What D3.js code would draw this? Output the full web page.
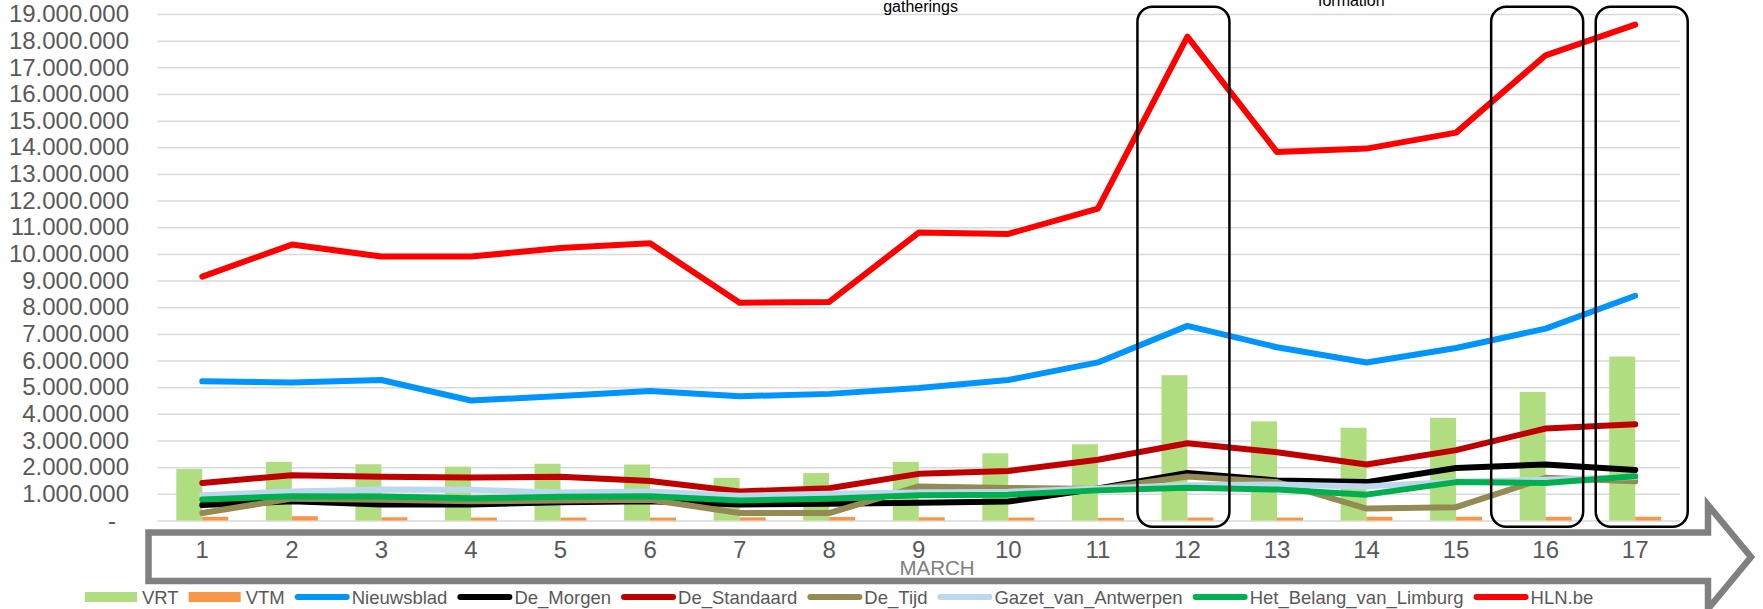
<!DOCTYPE html>
<html>
<head>
<meta charset="utf-8">
<script src="https://cdn.jsdelivr.net/npm/d3@7"></script>
<style>
  body { margin: 0; background: #fff; }
  text { font-family: "Liberation Sans", Arial, sans-serif; }
</style>
</head>
<body>
<script>
//Days of March on the x axis
var days = [1, 2, 3, 4, 5, 6, 7, 8, 9, 10, 11, 12, 13, 14, 15, 16, 17];

//Bar series (values in millions)
var vrt = [1.93, 2.2, 2.11, 2.02, 2.13, 2.1, 1.6, 1.78, 2.2, 2.52, 2.86, 5.45, 3.72, 3.48, 3.85, 4.82, 6.15];
var vtm = [0.14, 0.16, 0.12, 0.11, 0.11, 0.11, 0.12, 0.13, 0.12, 0.11, 0.1, 0.11, 0.11, 0.14, 0.14, 0.14, 0.14];

//Line series (values in millions)
var nieuwsblad = [5.22, 5.18, 5.27, 4.5, 4.67, 4.86, 4.66, 4.75, 4.97, 5.27, 5.93, 7.3, 6.5, 5.93, 6.47, 7.2, 8.43];
var deMorgen = [0.58, 0.72, 0.6, 0.6, 0.68, 0.72, 0.6, 0.63, 0.67, 0.71, 1.2, 1.78, 1.5, 1.44, 1.97, 2.1, 1.89];
var deStandaard = [1.41, 1.7, 1.64, 1.61, 1.64, 1.48, 1.09, 1.21, 1.75, 1.86, 2.28, 2.9, 2.56, 2.1, 2.64, 3.45, 3.61];
var deTijd = [0.28, 0.82, 0.78, 0.72, 0.75, 0.78, 0.28, 0.28, 1.28, 1.22, 1.18, 1.65, 1.44, 0.45, 0.5, 1.6, 1.47];
var gazet = [0.95, 1.09, 1.16, 1.15, 1.05, 1.09, 0.93, 1.0, 1.05, 1.08, 1.2, 1.32, 1.35, 1.28, 1.45, 1.53, 1.63];
var hetBelang = [0.79, 0.91, 0.9, 0.83, 0.89, 0.91, 0.75, 0.82, 0.95, 0.97, 1.13, 1.23, 1.16, 0.97, 1.44, 1.41, 1.66];
var hln = [9.15, 10.35, 9.9, 9.9, 10.22, 10.4, 8.17, 8.2, 10.8, 10.75, 11.7, 18.15, 13.82, 13.95, 14.55, 17.45, 18.6];

//Y axis ticks (millions)
var yTicks = d3.range(0, 20);

//Days that get a rounded box around them (with a small hand-drawn shift)
var boxedDays = [12, 16, 17];
var boxShift = [-4, -8.5, 6.5];

//Note texts cut off at the top of the picture
var notes = [{text: "gatherings", day: 9.02}, {text: "formation", day: 13.83}];

var barSeries = [
    {name: "VRT", values: vrt, color: "#b0dd7f"},
    {name: "VTM", values: vtm, color: "#f79646"}
];

var lineSeries = [
    {name: "Nieuwsblad", values: nieuwsblad, color: "#0094ff"},
    {name: "De_Morgen", values: deMorgen, color: "#000000"},
    {name: "De_Standaard", values: deStandaard, color: "#c00000"},
    {name: "De_Tijd", values: deTijd, color: "#948a54"},
    {name: "Gazet_van_Antwerpen", values: gazet, color: "#bdd7ee"},
    {name: "Het_Belang_van_Limburg", values: hetBelang, color: "#00b050"},
    {name: "HLN.be", values: hln, color: "#ff0000"}
];

//Dimensions
var width = 1763,
    height = 609,
    plot = {top: 14, bottom: 520.5, left: 157.5, right: 1680};

//Number format with dots as thousands separator
var nl = d3.formatLocale({decimal: ",", thousands: ".", grouping: [3], currency: ["€", ""]});
var fmt = nl.format(",.0f");

//Create the svg
const svg = d3.select("body")
    .append("svg")
    .attr("width", width)
    .attr("height", height)
    .attr("viewBox", [0, 0, width, height]);

//Scales
var x0 = d3.scaleBand()
    .domain(days)
    .range([plot.left, plot.right])
    .paddingInner(0.42)
    .paddingOuter(0.21);

var x1 = d3.scaleBand()
    .domain(barSeries.map(d => d.name))
    .range([0, x0.bandwidth()]);

var xc = d => x0(d) + x0.bandwidth() / 2;

var y = d3.scaleLinear()
    .domain([0, 19])
    .range([plot.bottom, plot.top]);

//Gray arrow behind the day labels
var arrow = d3.path();
arrow.moveTo(148.5, 532.5);
arrow.lineTo(1708, 532.5);
arrow.lineTo(1708, 505);
arrow.lineTo(1751, 557);
arrow.lineTo(1708, 609);
arrow.lineTo(1708, 581);
arrow.lineTo(148.5, 581);
arrow.closePath();

svg.append("path")
    .attr("d", arrow.toString())
    .attr("fill", "#fff")
    .attr("stroke", "#808080")
    .attr("stroke-width", 6.5)
    .attr("stroke-linejoin", "miter");

//Y axis with gridlines
svg.append("g")
    .attr("transform", `translate(${plot.left},0)`)
    .call(d3.axisLeft(y)
        .tickValues(yTicks)
        .tickSize(-(plot.right - plot.left))
        .tickPadding(28.5)
        .tickFormat(d => d === 0 ? "-" : fmt(d * 1e6)))
    .call(g => g.select(".domain").remove())
    .call(g => g.selectAll(".tick line").attr("stroke", "#d9d9d9").attr("stroke-width", 1.5))
    .call(g => g.selectAll(".tick text")
        .attr("fill", "#595959")
        .attr("font-size", 24)
        .attr("font-family", "'Liberation Sans', Arial, sans-serif")
        .attr("dx", d => d === 0 ? -13 : 0));

//Bars
svg.append("g")
    .selectAll("g")
    .data(barSeries)
    .join("g")
    .attr("fill", d => d.color)
    .selectAll("rect")
    .data(s => s.values.map((v, i) => ({name: s.name, day: days[i], value: v})))
    .join("rect")
    .attr("x", d => x0(d.day) + x1(d.name))
    .attr("width", x1.bandwidth())
    .attr("y", d => y(d.value))
    .attr("height", d => y(0) - y(d.value));

//Lines
var line = d3.line()
    .x((v, i) => xc(days[i]))
    .y(v => y(v));

svg.append("g")
    .selectAll("path")
    .data(lineSeries)
    .join("path")
    .attr("fill", "none")
    .attr("stroke", d => d.color)
    .attr("stroke-width", 6)
    .attr("stroke-linejoin", "round")
    .attr("stroke-linecap", "round")
    .attr("d", d => line(d.values));

//Rounded boxes
svg.append("g")
    .selectAll("rect")
    .data(boxedDays)
    .join("rect")
    .attr("x", (d, i) => xc(d) - 46 + boxShift[i])
    .attr("width", 92)
    .attr("y", 6.7)
    .attr("height", 520)
    .attr("rx", 15)
    .attr("fill", "none")
    .attr("stroke", "#000")
    .attr("stroke-width", 2.5);

//Day labels
svg.append("g")
    .selectAll("text")
    .data(days)
    .join("text")
    .attr("x", d => xc(d))
    .attr("y", 557.5)
    .attr("text-anchor", "middle")
    .attr("font-size", 24)
    .attr("fill", "#595959")
    .text(d => d);

//Axis title
svg.append("text")
    .attr("x", 937)
    .attr("y", 575)
    .attr("text-anchor", "middle")
    .attr("font-size", 20.5)
    .attr("fill", "#7f7f7f")
    .text("MARCH");

//Notes at the top
svg.append("g")
    .selectAll("text")
    .data(notes)
    .join("text")
    .attr("x", d => xc(1) + (d.day - 1) * x0.step())
    .attr("y", (d, i) => i === 0 ? 12 : 6)
    .attr("text-anchor", "middle")
    .attr("font-size", 16)
    .attr("fill", "#000")
    .text(d => d.text);

//Legend
var legend = svg.append("g");
var lx = 85, ly = 597;
var legendItems = barSeries.map(d => ({name: d.name, color: d.color, type: "bar"}))
    .concat(lineSeries.map(d => ({name: d.name, color: d.color, type: "line"})));

legendItems.forEach(function(d) {
    if (d.type === "bar") {
        legend.append("rect")
            .attr("x", lx)
            .attr("y", ly - 5)
            .attr("width", 52)
            .attr("height", 10)
            .attr("fill", d.color);
    } else {
        legend.append("line")
            .attr("x1", lx + 3)
            .attr("x2", lx + 52)
            .attr("y1", ly)
            .attr("y2", ly)
            .attr("stroke", d.color)
            .attr("stroke-width", 6)
            .attr("stroke-linecap", "round");
    }
    lx += 57;
    var t = legend.append("text")
        .attr("x", lx)
        .attr("y", ly + 7)
        .attr("font-size", 18.5)
        .attr("fill", "#595959")
        .text(d.name);
    lx += t.node().getComputedTextLength() + 10;
});
</script>
</body>
</html>
